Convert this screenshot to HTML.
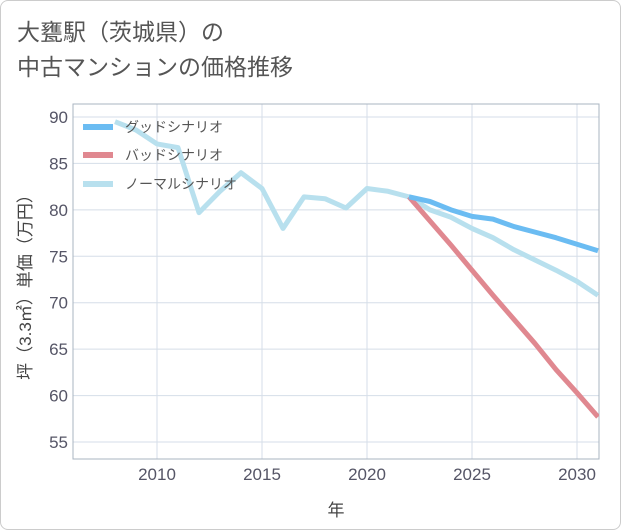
<!DOCTYPE html>
<html><head><meta charset="utf-8"><style>
body{margin:0;background:#fff;font-family:"Liberation Sans","Noto Sans CJK JP",sans-serif;}
#wrap{position:relative;width:619px;height:528px;border:1px solid #ccc;border-radius:8px;overflow:hidden;background:#fff}
#title{position:absolute;left:16px;top:14px;font-size:23px;line-height:35px;color:#555;}
svg{position:absolute;left:0;top:0}
</style></head><body>
<div id="wrap">
<div id="title">大甕駅（茨城県）の<br>中古マンションの価格推移</div>
<svg id="c" width="621" height="530"></svg>
</div>
<script>
const xTicks=[2010,2015,2020,2025,2030];
const yTicks=[55,60,65,70,75,80,85,90];
const normalYears=[2008,2009,2010,2011,2012,2013,2014,2015,2016,2017,2018,2019,2020,2021,2022,2023,2024,2025,2026,2027,2028,2029,2030,2031];
const normalVals=[89.5,88.6,87.1,86.7,79.7,82,84,82.3,78,81.4,81.2,80.2,82.3,82,81.4,80,79.2,78,77,75.7,74.6,73.5,72.3,70.8];
const goodYears=[2022,2023,2024,2025,2026,2027,2028,2029,2030,2031];
const goodVals=[81.4,80.9,80,79.3,79,78.2,77.6,77,76.3,75.6];
const badYears=[2022,2023,2024,2025,2026,2027,2028,2029,2030,2031];
const badVals=[81.4,78.8,76.2,73.5,70.8,68.2,65.6,62.8,60.3,57.7];
const L=72,R=598,T=103,B=458;
const x=y=>72+(y-2006)*21;
const yv=v=>441-(v-55)*(325/35);
const s=document.getElementById('c');const NS='http://www.w3.org/2000/svg';
function el(t,a,p){const e=document.createElementNS(NS,t);for(const k in a)e.setAttribute(k,a[k]);(p||s).appendChild(e);return e;}
const clip=el('clipPath',{id:'cl'});el('rect',{x:L,y:T,width:R-L,height:B-T},clip);
xTicks.forEach(t=>{const g=el('line',{x1:x(t),x2:x(t),y1:T,y2:B,stroke:'#d5dee8'});
const tx=el('text',{x:x(t),y:479,'text-anchor':'middle','font-size':17,fill:'#556'});tx.textContent=t;});
yTicks.forEach(t=>{const g=el('line',{x1:L,x2:R,y1:yv(t),y2:yv(t),stroke:'#d5dee8'});
const tx=el('text',{x:67,y:yv(t)+6,'text-anchor':'end','font-size':17,fill:'#556'});tx.textContent=t;});
el('rect',{x:L,y:T,width:R-L,height:B-T,fill:'none',stroke:'#aab4c0'});
function line(ys,vs,col,name){const p=el('polyline',{points:ys.map((y,i)=>x(y)+','+yv(vs[i])).join(' '),fill:'none',stroke:col,'stroke-width':5,'stroke-linejoin':'round','clip-path':'url(#cl)'});}
line(normalYears,normalVals,'#b8e0ee','normal-scenario-line');
line(badYears,badVals,'#e08890','bad-scenario-line');
line(goodYears,goodVals,'#6bbcf2','good-scenario-line');
[['グッドシナリオ','#6bbcf2',126],['バッドシナリオ','#e08890',154],['ノーマルシナリオ','#b8e0ee',183]].forEach(([n,c,yy])=>{
const r=el('line',{x1:82,x2:112,y1:yy,y2:yy,stroke:c,'stroke-width':6});
const t=el('text',{x:124,y:yy+5,'font-size':14,fill:'#555'});t.textContent=n;});
const xt=el('text',{x:335,y:515,'text-anchor':'middle','font-size':17,fill:'#444'});xt.textContent='年';
const yt=el('text',{x:0,y:0,'text-anchor':'middle','font-size':17,fill:'#444',transform:'translate(30,282) rotate(-90)'});yt.textContent='坪（3.3㎡）単価（万円）';
</script>
</body></html>
